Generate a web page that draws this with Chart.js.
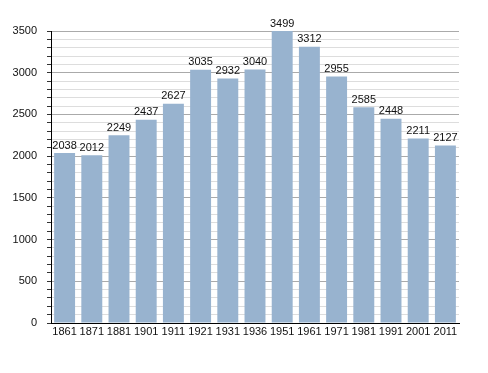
<!DOCTYPE html>
<html lang="en">
<head>
  <meta charset="UTF-8">
  <title>Population</title>
  <script src="https://cdn.jsdelivr.net/npm/chart.js"></script>
  <style>
    body {
      margin: 0;
      padding: 0;
      background: #fff;
    }

    .wrap {
      width: 488px;
      height: 373px;
    }
  </style>
</head>
<body>
  <div class="wrap">
    <canvas id="popChart" width="488" height="373"></canvas>
  </div>

  <script>
    const years = ['1861', '1871', '1881', '1901', '1911', '1921', '1931', '1936', '1951', '1961', '1971', '1981', '1991', '2001', '2011'];
    const population = [2038, 2012, 2249, 2437, 2627, 3035, 2932, 3040, 3499, 3312, 2955, 2585, 2448, 2211, 2127];

    // numbers written above each bar
    const barLabels = {
      id: 'barLabels',
      afterDatasetsDraw(chart) {
        const ctx = chart.ctx;
        const meta = chart.getDatasetMeta(0);
        ctx.save();
        ctx.font = '11px "Liberation Sans", Arial, sans-serif';
        ctx.fillStyle = '#111';
        ctx.textAlign = 'center';
        ctx.textBaseline = 'bottom';
        meta.data.forEach((bar, i) => {
          ctx.fillText(String(population[i]), bar.x, bar.y - 2);
        });
        ctx.restore();
      }
    };

    const ctx = document.getElementById('popChart').getContext('2d');

    new Chart(ctx, {
      type: 'bar',
      data: {
        labels: years,
        datasets: [{
          data: population,
          backgroundColor: '#98b3cf',
          borderWidth: 0,
          categoryPercentage: 1,
          barPercentage: 0.77
        }]
      },
      options: {
        responsive: false,
        animation: false,
        layout: {
          padding: { top: 31, right: 29, bottom: 0, left: 0 }
        },
        plugins: {
          legend: { display: false },
          tooltip: { enabled: false }
        },
        scales: {
          x: {
            afterFit(scale) { scale.height = 50; },
            grid: { display: false, drawTicks: false },
            border: { display: true, color: '#000', width: 1 },
            ticks: {
              color: '#111',
              padding: 2,
              maxRotation: 0,
              autoSkip: false,
              font: { family: '"Liberation Sans", Arial, sans-serif', size: 11 }
            }
          },
          y: {
            min: 0,
            max: 3500,
            afterFit(scale) { scale.width = 51; },
            border: { display: true, color: '#000', width: 1 },
            grid: {
              color: (c) => (c.tick && c.tick.value % 500 === 0) ? '#aaaaaa' : '#dddddd',
              tickColor: '#333',
              tickLength: 4,
              drawTicks: true
            },
            ticks: {
              stepSize: 100,
              autoSkip: false,
              color: '#111',
              padding: 10,
              font: { family: '"Liberation Sans", Arial, sans-serif', size: 11 },
              callback: (v) => (v % 500 === 0 ? String(v) : '')
            }
          }
        }
      },
      plugins: [barLabels]
    });
  </script>
</body>
</html>
